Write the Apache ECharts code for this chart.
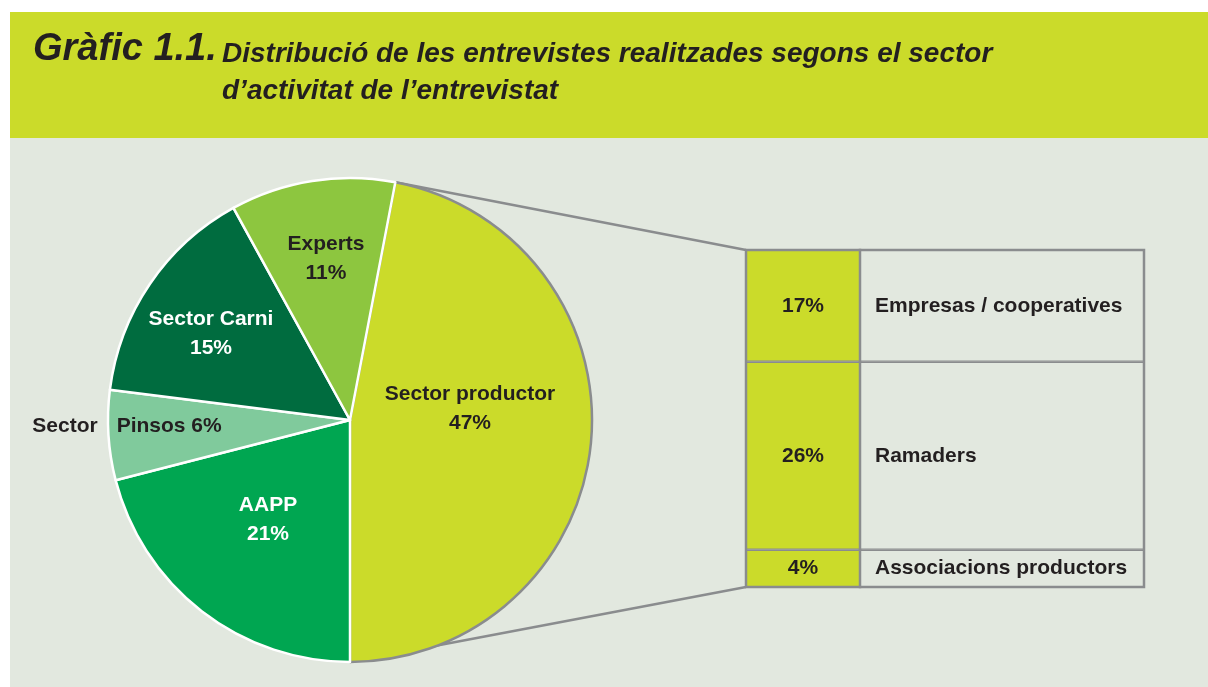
<!DOCTYPE html>
<html><head><meta charset="utf-8">
<script src="https://cdn.jsdelivr.net/npm/echarts@6/dist/echarts.min.js"></script>
<style>html,body{margin:0;padding:0;background:#fff}#c{width:1208px;height:687px}</style>
</head><body><div id="c"></div>
<script>
// ---- data ----
const sectors = ['Sector productor', 'AAPP', 'Sector Pinsos', 'Sector Carni', 'Experts'];
const sectorShares = [47, 21, 6, 15, 11];
const subCategories = ['Empresas / cooperatives', 'Ramaders', 'Associacions productors'];
const subShareLabels = ['17%', '26%', '4%'];
const subBarHeights = [15.6, 26.2, 5.2]; // heights as drawn in the bar of the split slice
const titleMain = 'Gràfic 1.1.';
const titleSub = 'Distribució de les entrevistes realitzades segons el sector\nd’activitat de l’entrevistat';

// ---- styles / layout ----
const FONT = "'Liberation Sans', Arial, sans-serif";
const TXT = '#231f20';
const LIME = '#cbdb2a';
const BG = '#e2e8df';
const GREY = '#8a8c8e';
const sliceColors = [LIME, '#00a651', '#80ca9c', '#006c3f', '#8dc63f'];
const sliceTextColors = [TXT, '#ffffff', TXT, '#ffffff', TXT];
const CX = 350, CY = 420, R = 242;
const labelPos = [[470, 409], [268, 520], [127, 426], [211, 334], [326, 259]];
const BOX = {left: 746, top: 250, w1: 114, w2: 284, h: 337};
const BW = 2.5;

const chart = echarts.init(document.getElementById('c'), null, {renderer: 'canvas'});
const splitShare = sectorShares[0];
const startAngle = -90 + 360 * splitShare / sectorShares.reduce((a, b) => a + b, 0);
const subTotal = subBarHeights.reduce((a, b) => a + b, 0);

const labelBase = {fontFamily: FONT, fontSize: 21, fontWeight: 'bold', color: TXT};

const pieData = sectors.map((n, i) => ({
  name: n, value: sectorShares[i],
  itemStyle: {color: sliceColors[i], borderColor: i === 0 ? GREY : '#ffffff', borderWidth: 2.5},
  label: {color: sliceTextColors[i]}
}));

const barSeries = [];
subCategories.forEach((name, i) => {
  barSeries.push({
    type: 'bar', xAxisIndex: 0, yAxisIndex: 0, stack: 'a', barWidth: '100%',
    data: [subBarHeights[i]],
    itemStyle: {color: LIME, borderColor: GREY, borderWidth: BW / 2},
    label: Object.assign({show: true, position: 'inside', formatter: () => subShareLabels[i]}, labelBase),
    silent: true
  });
  barSeries.push({
    type: 'bar', xAxisIndex: 1, yAxisIndex: 1, stack: 'b', barWidth: '100%',
    data: [subBarHeights[i]],
    itemStyle: {color: BG, borderColor: GREY, borderWidth: BW / 2},
    label: Object.assign({show: true, position: 'insideLeft', distance: 15, formatter: () => name}, labelBase),
    silent: true
  });
});

// connector lines between pie and bar
const a0 = startAngle * Math.PI / 180;
const pTop = [CX + R * Math.cos(a0), CY - R * Math.sin(a0)];
const pBot = [CX, CY + R];

const option = {
  animation: false,
  backgroundColor: '#ffffff',
  graphic: [
    {type: 'rect', z: -10, shape: {x: 10, y: 12, width: 1198, height: 126}, style: {fill: LIME}},
    {type: 'rect', z: -10, shape: {x: 10, y: 138, width: 1198, height: 549}, style: {fill: BG}},
    {type: 'line', z: -5, shape: {x1: pTop[0], y1: pTop[1], x2: BOX.left, y2: BOX.top}, style: {stroke: GREY, lineWidth: 2.5}},
    {type: 'line', z: -5, shape: {x1: pBot[0], y1: pBot[1], x2: BOX.left, y2: BOX.top + BOX.h}, style: {stroke: GREY, lineWidth: 2.5}}
  ],
  title: [
    {text: titleMain, left: 33, top: 29, padding: 0,
     textStyle: {fontFamily: FONT, fontSize: 38, fontStyle: 'italic', fontWeight: 'bold', color: TXT, lineHeight: 42}},
    {text: titleSub, left: 222, top: 36, padding: 0,
     textStyle: {fontFamily: FONT, fontSize: 28, fontStyle: 'italic', fontWeight: 'bold', color: TXT, lineHeight: 37}}
  ],
  grid: [
    {left: BOX.left, top: BOX.top, width: BOX.w1, height: BOX.h, show: true, borderColor: GREY, borderWidth: BW, backgroundColor: 'transparent'},
    {left: BOX.left + BOX.w1, top: BOX.top, width: BOX.w2, height: BOX.h, show: true, borderColor: GREY, borderWidth: BW, backgroundColor: 'transparent'}
  ],
  xAxis: [
    {type: 'category', gridIndex: 0, data: ['%'], show: false},
    {type: 'category', gridIndex: 1, data: ['n'], show: false}
  ],
  yAxis: [
    {type: 'value', gridIndex: 0, min: 0, max: subTotal, inverse: true, show: false},
    {type: 'value', gridIndex: 1, min: 0, max: subTotal, inverse: true, show: false}
  ],
  series: [
    {
      type: 'pie', center: [CX, CY], radius: [0, R], startAngle: startAngle, clockwise: true,
      avoidLabelOverlap: false, silent: true,
      data: pieData,
      label: Object.assign({
        show: true, position: 'inside', lineHeight: 29,
        formatter: (p) => {
          if (p.dataIndex === 2) {
            const parts = p.name.split(' ');
            return '{o|' + parts[0] + '}{g|}{i|' + parts.slice(1).join(' ') + ' ' + p.value + '%}';
          }
          return p.name + '\n' + p.value + '%';
        },
        rich: {
          o: Object.assign({}, labelBase),
          g: {width: 19},
          i: Object.assign({}, labelBase)
        }
      }, labelBase),
      labelLine: {show: false},
      labelLayout: (params) => {
        const p = labelPos[params.dataIndex];
        return {x: p[0], y: p[1], align: 'center', verticalAlign: 'middle'};
      }
    }
  ].concat(barSeries)
};
// per-item label colours override the shared label colour
option.series[0].label.color = undefined;
chart.setOption(option);
</script>
</body></html>
